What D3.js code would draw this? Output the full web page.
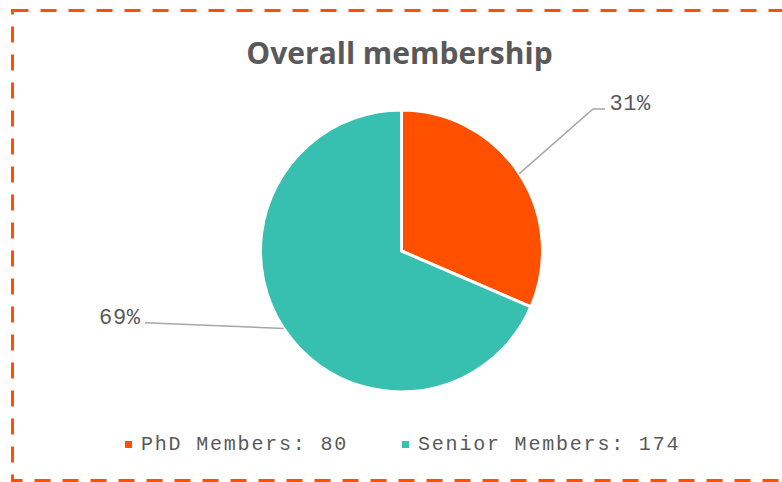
<!DOCTYPE html>
<html>
<head>
<meta charset="utf-8">
<script src="https://cdn.jsdelivr.net/npm/d3@7"></script>
<style>
  html, body { margin: 0; padding: 0; background: white; }
</style>
</head>
<body>
<svg id="viz"></svg>
<script>
const categories = ["PhD Members", "Senior Members"];
const counts = [80, 174];
const percentLabels = ["31%", "69%"];
const titleText = "Overall membership";

const width = 782;
const height = 482;
const orange = "#FF5000";
const teal = "#37BFB0";
const textGrey = "#595959";

const cx = 401.5, cy = 251, radius = 141;

// where the leader lines end, relative to pie centre (Excel puts them by hand)
const labelLayout = [
  { elbow: [191.5, -142], end: [203.5, -142], textX: 208, textY: -141.5, anchor: "start" },
  { elbow: [-256.5, 71.7], end: [-256.5, 71.7], textX: -261, textY: 72.5, anchor: "end" }
];

const svg = d3.select("#viz")
    .attr("width", width)
    .attr("height", height)
    .attr("viewBox", [0, 0, width, height])
    .style("background-color", "white");

// dashed frame, right side runs off the picture
svg.append("rect")
    .attr("x", 12.5)
    .attr("y", 10.5)
    .attr("width", 820)
    .attr("height", 470)
    .attr("fill", "none")
    .attr("stroke", orange)
    .attr("stroke-width", 3)
    .attr("stroke-dasharray", "16 12");

svg.append("text")
    .attr("x", 399.5)
    .attr("y", 64)
    .attr("text-anchor", "middle")
    .attr("fill", textGrey)
    .style("font", "bold 30px 'Open Sans', sans-serif")
    .text(titleText);

const color = d3.scaleOrdinal().domain(categories).range([orange, teal]);

const pie = d3.pie().sort(null).value(d => d.value);
const arcs = pie(categories.map((c, i) => ({ name: c, value: counts[i], label: percentLabels[i] })));

const arc = d3.arc().innerRadius(0).outerRadius(radius);
const edgeArc = d3.arc().innerRadius(radius).outerRadius(radius);

const g = svg.append("g").attr("transform", `translate(${cx},${cy})`);

g.selectAll(".slice")
  .data(arcs)
  .join("path")
    .attr("class", "slice")
    .attr("d", arc)
    .attr("fill", d => color(d.data.name))
    .attr("stroke", "white")
    .attr("stroke-width", 3)
    .attr("stroke-linejoin", "round");

g.selectAll(".leader")
  .data(arcs)
  .join("polyline")
    .attr("class", "leader")
    .attr("points", (d, i) => {
      const p = edgeArc.centroid(d);
      const l = labelLayout[i];
      return [p, l.elbow, l.end].map(q => q.join(",")).join(" ");
    })
    .attr("fill", "none")
    .attr("stroke", "#A6A6A6")
    .attr("stroke-width", 1.5);

g.selectAll(".pct")
  .data(arcs)
  .join("text")
    .attr("class", "pct")
    .attr("x", (d, i) => labelLayout[i].textX)
    .attr("y", (d, i) => labelLayout[i].textY)
    .attr("text-anchor", (d, i) => labelLayout[i].anchor)
    .attr("fill", textGrey)
    .style("font", "22px 'Liberation Mono', monospace")
    .style("letter-spacing", "0.6px")
    .text(d => d.data.label);

// legend
const legendX = d3.scalePoint().domain(categories).range([125, 402]);

const legend = svg.selectAll(".legend")
  .data(categories)
  .join("g")
    .attr("class", "legend")
    .attr("transform", d => `translate(${legendX(d)},441)`);

legend.append("rect")
    .attr("width", 7)
    .attr("height", 7)
    .attr("fill", d => color(d));

legend.append("text")
    .attr("x", 16)
    .attr("y", 9)
    .attr("fill", textGrey)
    .style("font", "20px 'Liberation Mono', monospace")
    .style("letter-spacing", "1.8px")
    .text((d, i) => `${d}: ${counts[i]}`);
</script>
</body>
</html>
